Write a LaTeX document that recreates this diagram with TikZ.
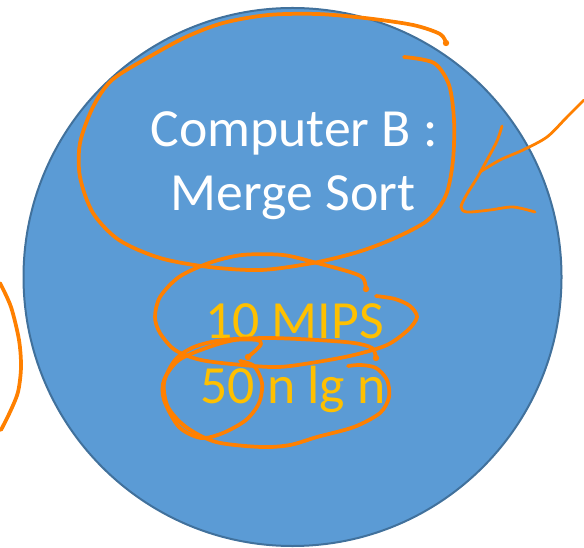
\documentclass[tikz,border=0pt]{standalone}
\usepackage{fontspec}
\setmainfont{Carlito}
\definecolor{fillblue}{HTML}{5B9BD5}
\definecolor{edgeblue}{HTML}{41719C}
\definecolor{inkorange}{HTML}{FF8000}
\definecolor{gold}{HTML}{FFC000}
\begin{document}
\begin{tikzpicture}[x=0.75pt,y=-0.75pt,
  txt/.style={font=\fontsize{40.3}{48}\selectfont, anchor=base, inner sep=0pt},
  inkline/.style={draw=inkorange, line width=2.8pt, line cap=round, line join=round},
  thinink/.style={inkline, line width=2.1pt},
  inkdot/.style={fill=inkorange}]
\useasboundingbox (0,0) rectangle (584,548);
\node (disc) [circle, draw=edgeblue, fill=fillblue, line width=1.5pt, minimum size=403.5pt, inner sep=0pt] at (292.5,277) {};
\node (l1) [txt, text=white] at (294,147) {Computer B :};
\node (l2) [txt, text=white] at (293,211) {Merge Sort};
\node (l3) [txt, text=gold] at (294.5,338) {10 MIPS};
\node (l4) [txt, text=gold] at (293,403) {50 n lg n};
% big loop around Computer B : Merge Sort
\draw[inkline] plot[smooth] coordinates {(446,43) (440,34) (413,25) (365,18) (317,14) (268,15) (223,23) (186,37) (149,57) (112,80) (93,107) (80,143) (80,177) (93,213) (119,240) (160,258) (209,267) (261,270) (313,263) (358,252) (395,238) (428,220) (446,195) (453,160) (454,120) (449,85) (434,63) (404,57)};
\fill[inkdot] (446,43) circle[radius=2.4pt];
% loop around 10 MIPS
\draw[inkline] plot[smooth] coordinates {(366,289) (363,278) (350,272) (317,263) (283,255) (242,255) (209,263) (179,277) (160,297) (155,317) (160,333) (175,350) (201,360) (242,365) (279,367) (317,362) (354,355) (387,345) (408,330) (417,317) (410,306) (395,299) (376,296)};
\fill[inkdot] (366,289) circle[radius=2.4pt];
% loop around 50 n lg n
\draw[inkline] plot[smooth] coordinates {(376,358) (372,348) (354,343) (317,340) (268,338) (223,340) (194,347) (175,360) (164,383) (168,407) (186,427) (216,442) (261,447) (290,445) (317,437) (354,427) (380,413) (389,397) (387,380) (376,368) (361,365) (348,366)};
\fill[inkdot] (376,358) circle[radius=2.4pt];
% small loop around 50
\draw[inkline] plot[smooth] coordinates {(240,361) (254,366) (262,383) (259,403) (246,420) (223,433) (201,438) (179,427) (164,400) (164,380) (179,360) (209,347) (235,340) (257,340) (261,344) (256,350) (248,357)};
\fill[inkdot] (248,357) circle[radius=2.4pt];
% left arc
\draw[inkline] plot[smooth] coordinates {(0,283) (11,307) (19,340) (21,367) (18,392) (10,412) (1,430)};
% arrow on the right
\draw[thinink] plot[smooth] coordinates {(584,100) (567,117) (547,137) (523,150) (500,160) (480,172)};
\draw[thinink] plot[smooth] coordinates {(502,126) (497,141) (487,160) (477,178) (467,194) (461,207) (467,212) (490,210) (513,207) (535,212)};
\end{tikzpicture}
\end{document}
